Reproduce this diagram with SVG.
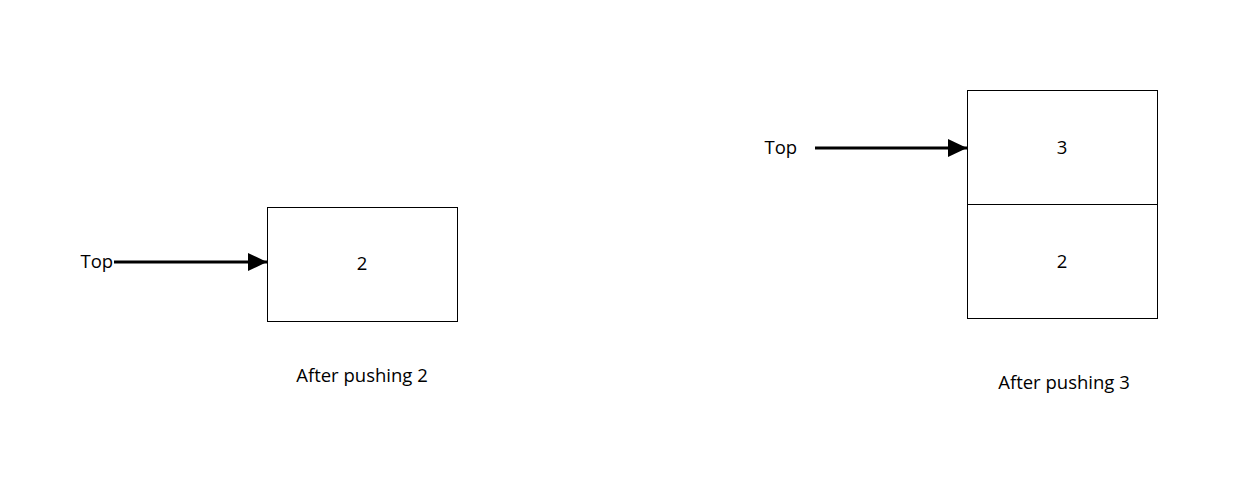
<svg xmlns="http://www.w3.org/2000/svg" width="1244" height="497" viewBox="0 0 1244 497">
<style>
.box{fill:#fff;stroke:#000;stroke-width:1}
.t{font-family:"Open Sans","Liberation Sans",sans-serif;font-size:18.5px;fill:#000}
.c{text-anchor:middle}
.arr{stroke:#000;stroke-width:3;fill:none;marker-end:url(#ah)}
</style>
<defs>
<marker id="ah" markerUnits="userSpaceOnUse" markerWidth="20" markerHeight="18" refX="19" refY="9" orient="auto">
<path d="M0,0 L19,9 L0,18 Z" fill="#000"/>
</marker>
</defs>
<rect width="1244" height="497" fill="#fff"/>
<g id="node-box2">
<rect class="box" x="267.5" y="207.5" width="190" height="114"/>
<text class="t c" x="362" y="269.5">2</text>
</g>
<g id="node-top1"><text class="t" x="80.5" y="268">Top</text></g>
<g id="node-caption1"><text class="t c" x="362" y="381.5">After pushing 2</text></g>
<g id="node-box3">
<rect class="box" x="967.5" y="90.5" width="190" height="114"/>
<text class="t c" x="1062" y="154">3</text>
</g>
<g id="node-box2b">
<rect class="box" x="967.5" y="204.5" width="190" height="114"/>
<text class="t c" x="1062" y="268">2</text>
</g>
<g id="node-top2"><text class="t" x="764.5" y="154">Top</text></g>
<g id="node-caption2"><text class="t c" x="1064" y="388.5">After pushing 3</text></g>
<g id="connectors">
<line class="arr" x1="114" y1="262" x2="267" y2="262"/>
<line class="arr" x1="815" y1="148" x2="967" y2="148"/>
</g>
</svg>
